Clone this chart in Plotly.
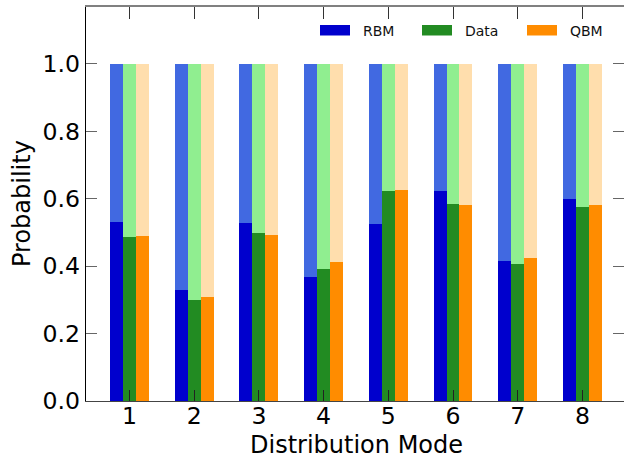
import plotly.graph_objects as go

modes = [1, 2, 3, 4, 5, 6, 7, 8]
rbm = [0.531, 0.329, 0.529, 0.368, 0.525, 0.623, 0.415, 0.599]
data = [0.487, 0.300, 0.499, 0.392, 0.623, 0.585, 0.407, 0.576]
qbm = [0.491, 0.309, 0.494, 0.412, 0.626, 0.582, 0.424, 0.582]
total = [1.0] * len(modes)
yticks = [0, 0.2, 0.4, 0.6, 0.8, 1.0]

series = [
    ("RBM", rbm, "#0000CD", "#4169E1", -0.3),
    ("Data", data, "#228B22", "#90EE90", -0.1),
    ("QBM", qbm, "#FF8C00", "#FFDEAD", 0.1),
]

W, H = 624, 457
L, R, T, B = 86, 0, 7, 56
FONT = "DejaVu Sans"

fig = go.Figure()
for name, vals, dark, light, off in series:
    fig.add_trace(go.Bar(x=modes, y=total, width=0.2, offset=off,
                         marker=dict(color=light, line=dict(width=0)),
                         showlegend=False, hoverinfo="skip"))
for name, vals, dark, light, off in series:
    fig.add_trace(go.Bar(x=modes, y=vals, width=0.2, offset=off, name=name,
                         marker=dict(color=dark, line=dict(width=0)),
                         showlegend=False))

# pixel -> paper helpers
pw, ph = W - L - R, H - T - B
def px(x):
    return (x - L) / pw
def py(y):
    return (H - B - y) / ph

shapes = []
annotations = []
leg = [("RBM", "#0000CD", 320), ("Data", "#228B22", 422), ("QBM", "#FF8C00", 527)]
for name, col, x0 in leg:
    shapes.append(dict(type="rect", xref="paper", yref="paper",
                       x0=px(x0), x1=px(x0 + 30), y0=py(35.5), y1=py(25),
                       fillcolor=col, line=dict(width=0)))
    annotations.append(dict(xref="paper", yref="paper", x=px(x0 + 41), y=py(31),
                            text=name, showarrow=False, xanchor="left",
                            yanchor="middle", font=dict(family=FONT, size=14, color="#111")))

annotations.append(dict(xref="paper", yref="paper", x=px(356), y=py(445),
                        text="Distribution Mode", showarrow=False, xanchor="center",
                        yanchor="middle", font=dict(family=FONT, size=24, color="black")))
annotations.append(dict(xref="paper", yref="paper", x=px(22), y=py(204),
                        text="Probability", showarrow=False, xanchor="center", textangle=-90,
                        yanchor="middle", font=dict(family=FONT, size=24, color="black")))

fig.update_layout(
    width=W, height=H,
    margin=dict(l=L, r=R, t=T, b=B, autoexpand=False),
    paper_bgcolor="white", plot_bgcolor="white",
    barmode="overlay", bargap=0,
    font=dict(family=FONT, color="black"),
    shapes=shapes, annotations=annotations,
    xaxis=dict(range=[0.3277, 8.643], tickvals=modes, ticktext=[str(m) for m in modes],
               automargin=False, ticklabelstandoff=-6,
               showgrid=False, zeroline=False, showline=True, linecolor="#444", linewidth=1.3,
               ticks="inside", ticklen=11, tickwidth=1.3, tickcolor="#222",
               tickfont=dict(size=23.6, family=FONT)),
    xaxis2=dict(overlaying="x", matches="x", side="top", tickvals=modes, automargin=False,
                showticklabels=False, showgrid=False, zeroline=False,
                showline=True, linecolor="#808080", linewidth=2.2,
                ticks="inside", ticklen=12, tickwidth=1.3, tickcolor="#333"),
    yaxis=dict(range=[0, 1.169], tickvals=yticks, tickformat=".1f", automargin=False,
               showgrid=False, zeroline=False, showline=True, linecolor="black", linewidth=1.3,
               ticks="inside", ticklen=11, tickwidth=1.3, tickcolor="#666",
               tickfont=dict(size=23.6, family=FONT)),
    yaxis2=dict(overlaying="y", matches="y", side="right", tickvals=yticks, automargin=False,
                showticklabels=False, showgrid=False, zeroline=False, showline=False,
                ticks="inside", ticklen=11, tickwidth=1.3, tickcolor="#666"),
)
fig.add_trace(go.Scatter(x=[1], y=[0], xaxis="x2", yaxis="y2", mode="markers",
                         marker=dict(opacity=0), showlegend=False, hoverinfo="skip"))

fig.write_html("out.html", config={"displayModeBar": False},
               post_script="document.body.style.margin='0';document.body.style.overflow='hidden';")
